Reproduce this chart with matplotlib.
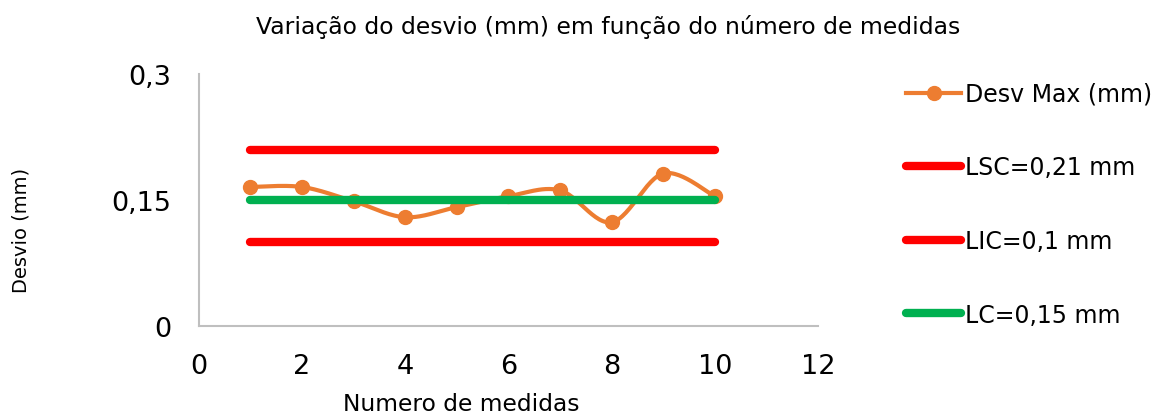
import numpy as np
import matplotlib
matplotlib.use("Agg")
import matplotlib.pyplot as plt
from matplotlib.ticker import FuncFormatter

# Data
medidas = [1, 2, 3, 4, 5, 6, 7, 8, 9, 10]
desv_max = [0.166, 0.166, 0.149, 0.130, 0.142, 0.155, 0.162, 0.124, 0.182, 0.155]
lsc = 0.21
lic = 0.10
lc = 0.15
x_ticks = [0, 2, 4, 6, 8, 10, 12]
y_ticks = [0, 0.15, 0.3]
legend_labels = ['Desv Max (mm)', 'LSC=0,21 mm', 'LIC=0,1 mm', 'LC=0,15 mm']

plt.rcParams['font.family'] = ['DejaVu Sans']

def smooth(xs, ys, n=30):
    # Excel-style smoothed line (Bezier with 1/6 control points)
    xs = np.asarray(xs, float); ys = np.asarray(ys, float)
    P = np.column_stack([xs, ys])
    P = np.vstack([P[0], P, P[-1]])
    out = []
    t = np.linspace(0, 1, n)[:, None]
    for i in range(1, len(P) - 2):
        p0, p1, p2, p3 = P[i-1], P[i], P[i+1], P[i+2]
        c1 = p1 + (p2 - p0) / 6
        c2 = p2 - (p3 - p1) / 6
        seg = ((1-t)**3)*p1 + 3*((1-t)**2)*t*c1 + 3*(1-t)*t**2*c2 + t**3*p2
        out.append(seg if i == 1 else seg[1:])
    out = np.vstack(out)
    return out[:, 0], out[:, 1]

fig = plt.figure(figsize=(11.62, 4.14), dpi=100)
ax = fig.add_axes([0.171, 0.209, 0.533, 0.609])

orange = '#ED7D31'
sx, sy = smooth(medidas, desv_max)
ax.plot(sx, sy, color=orange, lw=3, zorder=3)
ax.plot(medidas, desv_max, 'o', color=orange, ms=10, zorder=4)
h1, = ax.plot([], [], '-o', color=orange, lw=3, ms=10)

x0, x1 = medidas[0], medidas[-1]
h2, = ax.plot([x0, x1], [lsc, lsc], color='#FF0000', lw=6, solid_capstyle='round', zorder=2)
h3, = ax.plot([x0, x1], [lic, lic], color='#FF0000', lw=6, solid_capstyle='round', zorder=2)
h4, = ax.plot([x0, x1], [lc, lc], color='#00B050', lw=6, solid_capstyle='round', zorder=5)

ax.set_xlim(0, 12)
ax.set_ylim(0, 0.3)
ax.set_xticks(x_ticks)
ax.set_yticks(y_ticks)
ax.yaxis.set_major_formatter(FuncFormatter(lambda v, p: ('%g' % v).replace('.', ',')))
ax.tick_params(length=0, labelsize=19.5)
ax.tick_params(axis='x', pad=19)
ax.tick_params(axis='y', pad=20)
for s in ['top', 'right']:
    ax.spines[s].set_visible(False)
for s in ['left', 'bottom']:
    ax.spines[s].set_color('#BFBFBF')
    ax.spines[s].set_linewidth(1.5)

ax.set_xlabel('Numero de medidas', fontsize=16.8)
ax.xaxis.set_label_coords(0.424, -0.26)
ax.set_ylabel('Desvio (mm)', fontsize=14)
ax.yaxis.set_label_coords(-0.272, 0.385)
fig.text(0.523, 0.935, 'Variação do desvio (mm) em função do número de medidas',
         fontsize=16.9, ha='center', va='center')

leg = fig.legend([h1, h2, h3, h4], legend_labels,
                 loc='upper left', bbox_to_anchor=(0.7797, 0.80), frameon=False,
                 borderpad=0, borderaxespad=0,
                 fontsize=17, labelspacing=2.1, handlelength=2.35, handletextpad=0.16)

fig.savefig('out.png', dpi=100)
